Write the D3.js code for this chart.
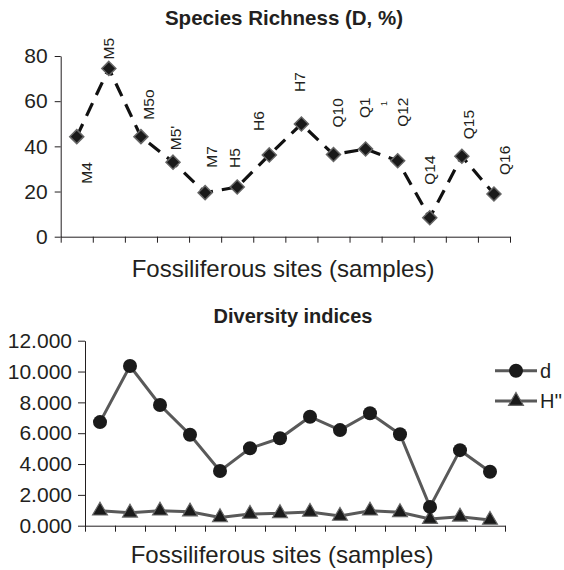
<!DOCTYPE html>
<html>
<head>
<meta charset="utf-8">
<script src="https://cdn.jsdelivr.net/npm/d3@7"></script>
<style>
  body { margin: 0; background: #fff; }
  svg { display: block; font-family: "Liberation Sans", Arial, sans-serif; }
  .axis path, .axis line { stroke: #231f20; stroke-width: 1; }
  .axis text { fill: #231f20; }
</style>
</head>
<body>
<div id="chart"></div>
<script>
// sample sites along the x axis
var sites = ["M4", "M5", "M5o", "M5'", "M7", "H5", "H6", "H7", "Q10", "Q11", "Q12", "Q14", "Q15", "Q16"];
var siteLabels = ["M4", "M5", "M5o", "M5'", "M7", "H5", "H6", "H7", "Q10", "Q1", "Q12", "Q14", "Q15", "Q16"];

// species richness D (%)
var richness = [44.3, 74.5, 44.3, 33, 19.5, 22, 36.2, 49.9, 36.4, 38.8, 33.6, 8.4, 35.6, 18.9];

// diversity indices
var dIndex = [6.72, 10.36, 7.83, 5.9, 3.55, 5.02, 5.67, 7.07, 6.2, 7.29, 5.93, 1.22, 4.9, 3.5];
var hIndex = [0.97, 0.84, 0.97, 0.91, 0.54, 0.76, 0.8, 0.89, 0.63, 0.97, 0.87, 0.43, 0.58, 0.37];

var topTicks = [0, 20, 40, 60, 80];
var bottomTicks = [0, 2, 4, 6, 8, 10, 12];
var legendNames = ["d", "H''"];

// where each rotated data label sits, relative to its point
var labelDx = [10, 0, 7, 2, 6, -3, -11, -2, 4, -1, 5, 0, 7, 10];
var labelDy = [47, -9, -17, -12, -25, -19, -24, -32, -27, -31, -34, -33, -17, -19];

var ink = "#231f20";

var svg = d3.select("#chart").append("svg")
    .attr("width", 564)
    .attr("height", 570);

// ---------- top chart ----------
var x1 = d3.scaleLinear().domain([0, sites.length]).range([60.7, 510]);
var y1 = d3.scaleLinear().domain([0, 80]).range([236.7, 56]);

svg.append("text")
    .attr("x", 284).attr("y", 25)
    .attr("text-anchor", "middle")
    .attr("font-size", 20.5).attr("font-weight", "bold")
    .attr("fill", ink)
    .text("Species Richness (D, %)");

svg.append("g").attr("class", "axis")
    .attr("transform", "translate(60.7,0)")
    .call(d3.axisLeft(y1).tickValues(topTicks).tickSize(6).tickSizeOuter(0).tickPadding(7))
    .selectAll("text").attr("font-size", 21);

svg.append("g").attr("class", "axis")
    .attr("transform", "translate(0,236.7)")
    .call(d3.axisBottom(x1).tickValues(d3.range(sites.length + 1)).tickFormat("").tickSize(6).tickSizeOuter(0));

svg.append("text")
    .attr("x", 283).attr("y", 277)
    .attr("text-anchor", "middle")
    .attr("font-size", 24)
    .attr("fill", ink)
    .text("Fossiliferous sites (samples)");

var line1 = d3.line()
    .x(function(d, i) { return x1(i + 0.5); })
    .y(function(d) { return y1(d); });

svg.append("path")
    .datum(richness)
    .attr("d", line1)
    .attr("fill", "none")
    .attr("stroke", "#111")
    .attr("stroke-width", 3.2)
    .attr("stroke-dasharray", "14,9");

svg.selectAll(".diamond")
    .data(richness)
    .enter().append("path")
    .attr("class", "diamond")
    .attr("d", d3.symbol().type(d3.symbolDiamond2).size(125))
    .attr("transform", function(d, i) { return "translate(" + x1(i + 0.5) + "," + y1(d) + ")"; })
    .attr("fill", "#1a1a1a")
    .attr("stroke", "#666")
    .attr("stroke-width", 1.5);

svg.selectAll(".dlabel")
    .data(richness)
    .enter().append("text")
    .attr("class", "dlabel")
    .attr("transform", function(d, i) {
        return "translate(" + (x1(i + 0.5) + labelDx[i] + 5.6) + "," + (y1(d) + labelDy[i]) + ") rotate(-90)";
    })
    .attr("font-size", 15.5)
    .attr("fill", ink)
    .text(function(d, i) { return siteLabels[i]; });

// stray digit of the Q11 label
svg.append("text")
    .attr("transform", "translate(" + (x1(9.5) + 21) + ",106) rotate(-90)")
    .attr("font-size", 9)
    .attr("fill", ink)
    .text("1");

// ---------- bottom chart ----------
var x2 = d3.scaleLinear().domain([0, sites.length]).range([85, 505]);
var y2 = d3.scaleLinear().domain([0, 12]).range([525.7, 340.7]);

svg.append("text")
    .attr("x", 293).attr("y", 323)
    .attr("text-anchor", "middle")
    .attr("font-size", 20).attr("font-weight", "bold")
    .attr("fill", ink)
    .text("Diversity indices");

svg.append("g").attr("class", "axis")
    .attr("transform", "translate(85,0)")
    .call(d3.axisLeft(y2).tickValues(bottomTicks).tickFormat(d3.format(".3f")).tickSize(7).tickSizeOuter(0).tickPadding(6))
    .selectAll("text").attr("font-size", 21);

svg.append("g").attr("class", "axis")
    .attr("transform", "translate(0,525.7)")
    .call(d3.axisBottom(x2).tickValues(d3.range(sites.length + 1)).tickFormat("").tickSize(6).tickSizeOuter(0));

svg.append("text")
    .attr("x", 282).attr("y", 563)
    .attr("text-anchor", "middle")
    .attr("font-size", 24)
    .attr("fill", ink)
    .text("Fossiliferous sites (samples)");

var line2 = d3.line()
    .x(function(d, i) { return x2(i + 0.5); })
    .y(function(d) { return y2(d); });

[hIndex, dIndex].forEach(function(series) {
    svg.append("path")
        .datum(series)
        .attr("d", line2)
        .attr("fill", "none")
        .attr("stroke", "#595959")
        .attr("stroke-width", 3);
});

svg.selectAll(".tri")
    .data(hIndex)
    .enter().append("path")
    .attr("class", "tri")
    .attr("d", d3.symbol().type(d3.symbolTriangle).size(95))
    .attr("transform", function(d, i) { return "translate(" + x2(i + 0.5) + "," + y2(d) + ")"; })
    .attr("fill", "#1a1a1a")
    .attr("stroke", "#666")
    .attr("stroke-width", 1.2);

svg.selectAll(".dot")
    .data(dIndex)
    .enter().append("circle")
    .attr("class", "dot")
    .attr("cx", function(d, i) { return x2(i + 0.5); })
    .attr("cy", function(d) { return y2(d); })
    .attr("r", 7)
    .attr("fill", "#1a1a1a");

// legend
var legend = svg.selectAll(".legend")
    .data(legendNames)
    .enter().append("g")
    .attr("class", "legend")
    .attr("transform", function(d, i) { return "translate(495," + (370.7 + i * 30.3) + ")"; });

legend.append("line")
    .attr("x1", 0).attr("x2", 42)
    .attr("stroke", "#595959").attr("stroke-width", 3);

legend.append("path")
    .attr("d", function(d, i) {
        return i === 0 ? d3.symbol().type(d3.symbolCircle).size(154)() : d3.symbol().type(d3.symbolTriangle).size(95)();
    })
    .attr("transform", "translate(21,0)")
    .attr("fill", "#1a1a1a")
    .attr("stroke", function(d, i) { return i === 0 ? "none" : "#666"; })
    .attr("stroke-width", 1.2);

legend.append("text")
    .attr("x", 45).attr("y", 7)
    .attr("font-size", 20)
    .attr("fill", ink)
    .text(function(d) { return d; });
</script>
</body>
</html>
